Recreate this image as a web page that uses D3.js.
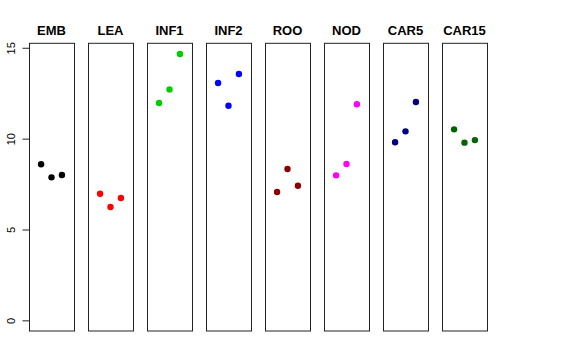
<!DOCTYPE html>
<html>
<head>
<meta charset="utf-8">
<script src="https://cdn.jsdelivr.net/npm/d3@7"></script>
<style>
  body { margin: 0; background: #fff; }
  text { font-family: "Liberation Sans", Arial, sans-serif; }
</style>
</head>
<body>
<svg id="svgContainer"></svg>
<script>
// Data: one small array per tissue, three replicates each
const categories = ["EMB", "LEA", "INF1", "INF2", "ROO", "NOD", "CAR5", "CAR15"];
const colors = ["#000000", "#FF0000", "#00CD00", "#0000FF", "#8B0000", "#FF00FF", "#000080", "#006400"];
const EMB = [8.59, 7.87, 8.0];
const LEA = [6.97, 6.24, 6.73];
const INF1 = [11.96, 12.71, 14.66];
const INF2 = [13.06, 11.81, 13.56];
const ROO = [7.06, 8.33, 7.41];
const NOD = [7.98, 8.6, 11.89];
const CAR5 = [9.8, 10.4, 12.02];
const CAR15 = [10.51, 9.78, 9.92];
const seriesValues = [EMB, LEA, INF1, INF2, ROO, NOD, CAR5, CAR15];
const yTicks = [0, 5, 10, 15];

const svgWidth = 576;
const svgHeight = 360;
const svg = d3.select("#svgContainer")
  .attr("width", svgWidth)
  .attr("height", svgHeight);

// panel geometry
const panelLeft = 29;
const panelWidth = 45;
const panelStep = 59;
const panelTop = 43.3;
const panelBottom = 331;

// y scale: 0..max with R style 4% padding
const yMax = d3.max(seriesValues, d => d3.max(d));
const yPad = yMax * 0.04;
const y = d3.scaleLinear()
  .domain([0 - yPad, yMax + yPad])
  .range([panelBottom, panelTop]);

// x scale inside a panel: positions 1..3 with xlim 0..4, padded 4%
const x = d3.scaleLinear()
  .domain([-0.16, 4.16])
  .range([0, panelWidth]);

const panels = svg.selectAll(".panel")
  .data(categories)
  .enter()
  .append("g")
  .attr("class", "panel")
  .attr("transform", (d, i) => `translate(${panelLeft + panelStep * i}, 0)`);

panels.append("rect")
  .attr("x", 0.5)
  .attr("y", panelTop)
  .attr("width", panelWidth)
  .attr("height", panelBottom - panelTop)
  .attr("fill", "none")
  .attr("stroke", "#222")
  .attr("stroke-width", 1);

panels.append("text")
  .attr("x", panelWidth / 2)
  .attr("y", 35)
  .attr("text-anchor", "middle")
  .attr("font-size", 13)
  .attr("font-weight", "bold")
  .text(d => d);

panels.selectAll("circle")
  .data((d, i) => seriesValues[i].map(v => ({ v: v, c: colors[i] })))
  .enter()
  .append("circle")
  .attr("cx", (d, j) => x(j + 1))
  .attr("cy", d => y(d.v))
  .attr("r", 3.2)
  .attr("fill", d => d.c);

// y axis on the first panel
const yAxis = d3.axisLeft(y)
  .tickValues(yTicks)
  .tickSize(7)
  .tickPadding(4);

const axisG = svg.append("g")
  .attr("transform", `translate(${panelLeft + 0.5}, 0)`)
  .call(yAxis);

axisG.select(".domain")
  .attr("d", `M0,${y(0)}V${y(15)}`)
  .attr("stroke", "#222");
axisG.selectAll(".tick line").attr("stroke", "#222");
axisG.selectAll(".tick text")
  .attr("font-size", 11)
  .attr("fill", "#000")
  .attr("text-anchor", "middle")
  .attr("transform", "rotate(-90)")
  .attr("x", d => -y(d))
  .attr("y", -15)
  .attr("dy", "0")
  .each(function(d) {
    // rotated labels positioned in absolute terms inside the tick group
    const tickY = y(d);
    d3.select(this)
      .attr("transform", `translate(0, ${-tickY}) rotate(-90)`)
      .attr("x", -tickY)
      .attr("y", -15);
  });
</script>
</body>
</html>
